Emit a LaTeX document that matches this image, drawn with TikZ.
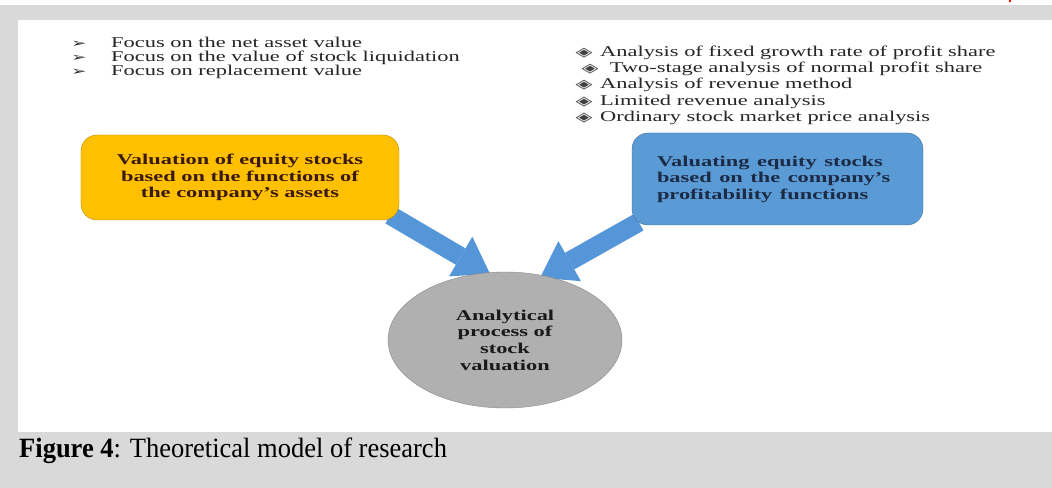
\documentclass[tikz,border=0pt]{standalone}
\usepackage{fontspec}
\setmainfont{Liberation Serif}
\newfontfamily\dingfont{DejaVu Sans}
\usepackage{graphicx}
\usetikzlibrary{arrows.meta,shapes.geometric,backgrounds}

\definecolor{pagegray}{HTML}{D9D9D9}
\definecolor{boxyellow}{HTML}{FFC000}
\definecolor{yellowedge}{HTML}{B8860B}
\definecolor{yellowtext}{HTML}{3A1A14}
\definecolor{boxblue}{HTML}{5B9BD5}
\definecolor{blueedge}{HTML}{41719C}
\definecolor{bluetext}{HTML}{1C2B45}
\definecolor{ovalgray}{HTML}{B0B0B0}
\definecolor{ovaledge}{HTML}{8A8A8A}
\definecolor{arrowblue}{HTML}{5596D8}

\newcommand{\widetxt}[1]{\scalebox{1.5}[1]{#1}}

\begin{document}
\begin{tikzpicture}[x=1bp,y=1bp]
% Styles for list lines and markers
\tikzstyle{list item}=[anchor=base west,inner sep=0,text=black!85,font=\fontsize{15}{15}\selectfont]
\tikzstyle{arrow mark}=[anchor=base,inner sep=0,text=black!85,font=\dingfont\fontsize{12}{12}\selectfont]
\tikzstyle{diamond mark}=[anchor=base,inner sep=0,text=black!75,font=\dingfont\fontsize{13}{13}\selectfont]
\tikzset{
yellow node/.style={rectangle,rounded corners=16bp,draw=yellowedge,fill=boxyellow,text=yellowtext,minimum width=318bp,minimum height=85bp,inner sep=0,align=center,font=\bfseries\fontsize{15}{16.5}\selectfont},
blue node/.style={rectangle,rounded corners=16bp,draw=blueedge,fill=boxblue,text=bluetext,minimum width=291bp,minimum height=92bp,inner sep=0,text width=241bp,align=left,font=\bfseries\fontsize{15}{16.5}\selectfont},
oval node/.style={ellipse,draw=ovaledge,fill=ovalgray,text=black!90,minimum width=234bp,minimum height=136bp,inner sep=0,align=center,font=\bfseries\fontsize{15}{16.7}\selectfont},
block arrow/.style={arrowblue,line width=19bp,-{Triangle[width=46bp,length=34bp,line width=0pt]}}
}
\useasboundingbox (0,0) rectangle (1052,-488);
\begin{scope}[on background layer]
\fill[pagegray] (0,0) rectangle (1052,-488);
\fill[white] (0,0) rectangle (1052,-5);
\fill[white] (18,-20) rectangle (1052,-432);
\draw[red,line width=1.2bp] (1010,0) -- (1010,-2);
\end{scope}

% Left list
\foreach \txt [count=\i] in {Focus on the net asset value,Focus on the value of stock liquidation,Focus on replacement value}{
\node[arrow mark] (am\i) at (79,-34-14*\i) {\scalebox{1.5}[1]{➢}};
\node[list item] (al\i) at (111,-34-14*\i) {\widetxt{\txt}};
}
% Right list
\foreach \dx/\txt [count=\i] in {0/Analysis of fixed growth rate of profit share,6/Two-stage analysis of normal profit share,0/Analysis of revenue method,0/Limited revenue analysis,0/Ordinary stock market price analysis}{
\node[diamond mark] (dm\i) at (584+\dx,-40.25-16.25*\i) {\scalebox{1.7}[1]{◈}};
\node[list item] (dl\i) at (600+1.6*\dx,-40.25-16.25*\i) {\widetxt{\txt}};
}

\node[yellow node] (assets) at (240,-177.5) {\widetxt{Valuation of equity stocks}\\\widetxt{based on the functions of}\\\widetxt{the company's assets}};
\node[blue node] (profit) at (777.5,-179) {\widetxt{Valuating equity stocks}\\\widetxt{based on the company's}\\\widetxt{profitability functions}};
\node[oval node] (analysis) at (505,-340) {\widetxt{Analytical}\\\widetxt{process of}\\\widetxt{stock}\\\widetxt{valuation}};

\begin{scope}[on background layer]
\draw[block arrow] ([shift={(-9,5)}]assets.south east) -- ([shift={(-15,-2)}]analysis.north);
\draw[block arrow] ([shift={(7,3)}]profit.south west) -- ([shift={(35,-6)}]analysis.north);
\end{scope}

\node[anchor=base west,inner sep=0,font=\fontsize{28}{28}\selectfont] (caption) at (19,-457) {\scalebox{0.95}[1]{\textbf{Figure 4}: Theoretical model of research}};
\end{tikzpicture}
\end{document}
